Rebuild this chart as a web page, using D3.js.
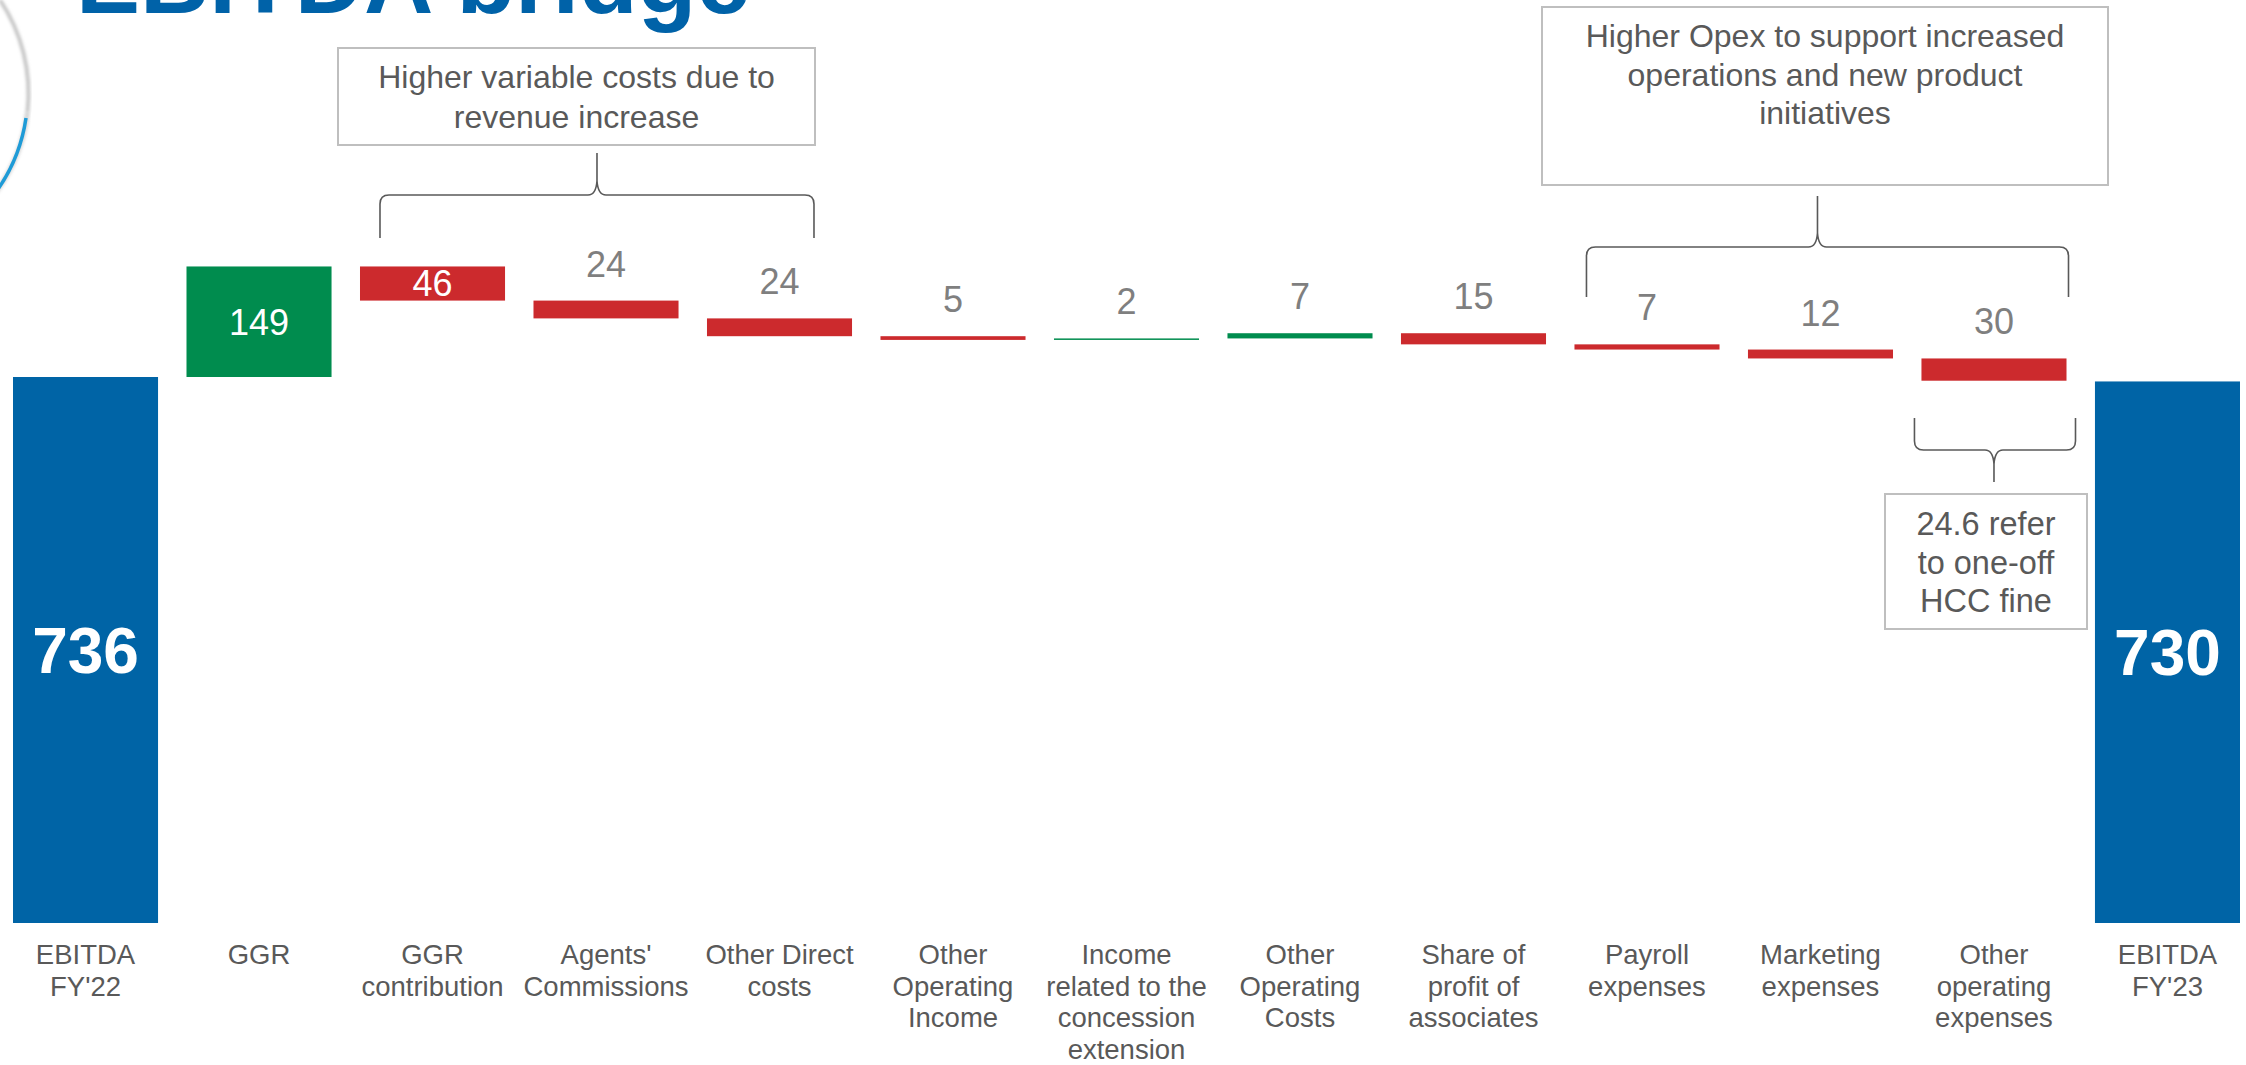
<!DOCTYPE html>
<html>
<head>
<meta charset="utf-8">
<script src="https://cdn.jsdelivr.net/npm/d3@7/dist/d3.min.js"></script>
<style>
  html, body { margin: 0; padding: 0; background: #ffffff; }
  svg { display: block; font-family: "Liberation Sans", Arial, sans-serif; }
</style>
</head>
<body>
<svg id="chart" width="2246" height="1065"></svg>
<script>
// ---------- DATA ----------
const categories = ["EBITDA FY'22", "GGR", "GGR contribution", "Agents' Commissions", "Other Direct costs",
  "Other Operating Income", "Income related to the concession extension", "Other Operating Costs",
  "Share of profit of associates", "Payroll expenses", "Marketing expenses", "Other operating expenses", "EBITDA FY'23"];
const categoryLines = [["EBITDA", "FY'22"], ["GGR"], ["GGR", "contribution"], ["Agents'", "Commissions"],
  ["Other Direct", "costs"], ["Other", "Operating", "Income"], ["Income", "related to the", "concession", "extension"],
  ["Other", "Operating", "Costs"], ["Share of", "profit of", "associates"], ["Payroll", "expenses"],
  ["Marketing", "expenses"], ["Other", "operating", "expenses"], ["EBITDA", "FY'23"]];
const values = [736, 149, 46, 24, 24, 5, 2, 7, 15, 7, 12, 30, 730];
const kinds = ["total", "up", "down", "down", "down", "down", "up", "up", "down", "down", "down", "down", "total"];
const title = "EBITDA bridge";
const note1 = ["Higher variable costs due to", "revenue increase"];
const note2 = ["Higher Opex to support increased", "operations and new product", "initiatives"];
const note3 = ["24.6 refer", "to one-off", "HCC fine"];

// ---------- STYLE ----------
const colors = { total: "#0064A6", up: "#008C4E", down: "#CC2A2D" };
const textDark = "#595959", textValue = "#7F7F7F";

// ---------- BUILD ----------
let run = 0;
const bars = values.map((v, i) => {
  let y0, y1;
  if (kinds[i] === "total") { y0 = 0; y1 = v; run = v; }
  else if (kinds[i] === "up") { y0 = run; y1 = run + v; run = y1; }
  else { y0 = run - v; y1 = run; run = y0; }
  return { cat: categories[i], lines: categoryLines[i], value: v, kind: kinds[i], lo: y0, hi: y1 };
});

const svg = d3.select("#chart");
const x = d3.scaleBand().domain(categories).range([13, 2240]).paddingInner(0.164).paddingOuter(0);
const y = d3.scaleLinear().domain([0, 736]).range([923, 377]);
const bw = x.bandwidth();

// logo arc
const defs = svg.append("defs");
defs.append("filter").attr("id", "blur").append("feGaussianBlur").attr("stdDeviation", 1.6);
svg.append("path").attr("d", "M0,0 A168,168 0 0,1 27.5,112").attr("fill", "none")
  .attr("stroke", "#c8c8c8").attr("stroke-width", 4).attr("filter", "url(#blur)");
svg.append("path").attr("d", "M27.5,112 A168,168 0 0,1 -4,192").attr("fill", "none")
  .attr("stroke", "#8a8a8a").attr("stroke-width", 5).attr("opacity", 0.35).attr("filter", "url(#blur)");
svg.append("path").attr("d", "M26,118 A168,168 0 0,1 -4,192").attr("fill", "none")
  .attr("stroke", "#1E9BD7").attr("stroke-width", 3.5);

// title
svg.append("text").attr("x", 76).attr("y", 13).attr("font-size", 96).attr("font-weight", "bold")
  .attr("fill", "#0062A8").text(title);

// bars
svg.append("g").selectAll("rect").data(bars).join("rect")
  .attr("x", d => x(d.cat)).attr("width", bw)
  .attr("y", d => y(d.hi)).attr("height", d => Math.max(1.5, y(d.lo) - y(d.hi)))
  .attr("fill", d => colors[d.kind]);

// value labels
const lab = svg.append("g").attr("text-anchor", "middle");
bars.forEach(d => {
  const cx = x(d.cat) + bw / 2;
  const h = y(d.lo) - y(d.hi);
  if (d.kind === "total") {
    lab.append("text").attr("x", cx).attr("y", (y(d.lo) + y(d.hi)) / 2).attr("dy", "0.36em")
      .attr("font-size", 64).attr("font-weight", "bold").attr("fill", "#fff").text(d.value);
  } else if (h > 30) {
    lab.append("text").attr("x", cx).attr("y", (y(d.lo) + y(d.hi)) / 2).attr("dy", "0.36em")
      .attr("font-size", 36).attr("fill", "#fff").text(d.value);
  } else {
    lab.append("text").attr("x", cx).attr("y", y(d.hi) - 24)
      .attr("font-size", 36).attr("fill", textValue).text(d.value);
  }
});

// category labels
const cl = svg.append("g").attr("text-anchor", "middle").attr("font-size", 27.5).attr("fill", textDark);
bars.forEach(d => {
  const t = cl.append("text").attr("x", x(d.cat) + bw / 2).attr("y", 964);
  d.lines.forEach((ln, j) => t.append("tspan").attr("x", x(d.cat) + bw / 2).attr("y", 964 + j * 31.5).text(ln));
});

// braces
function brace(xl, xr, xt, yEnd, yMid, yTip) {
  const s = Math.sign(yEnd - yMid); // +1: ends below mid (tip up)
  const r = 9;
  return `M${xl},${yEnd} L${xl},${yMid + s * r} Q${xl},${yMid} ${xl + r},${yMid} L${xt - 9},${yMid} ` +
    `Q${xt - 1},${yMid} ${xt},${yMid - s * 14} L${xt},${yTip} ` +
    `M${xr},${yEnd} L${xr},${yMid + s * r} Q${xr},${yMid} ${xr - r},${yMid} L${xt + 9},${yMid} ` +
    `Q${xt + 1},${yMid} ${xt},${yMid - s * 14}`;
}
const bg = svg.append("g").attr("fill", "none").attr("stroke", "#595959").attr("stroke-width", 1.6);
const b1l = x(categories[2]) + 20, b1r = x(categories[4]) + 107;
bg.append("path").attr("d", brace(b1l, b1r, (b1l + b1r) / 2, 238, 195, 153));
const b2l = x(categories[9]) + 12, b2r = x(categories[11]) + bw + 2;
bg.append("path").attr("d", brace(b2l, b2r, (b2l + b2r) / 2 - 10, 297, 247, 196));
const b3l = x(categories[11]) - 7, b3r = x(categories[11]) + bw + 9;
bg.append("path").attr("d", brace(b3l, b3r, x(categories[11]) + bw / 2, 418, 450, 482));

// annotation boxes
function noteBox(x0, y0, x1, y1, lines, baseline0, lh, fs) {
  const g = svg.append("g");
  g.append("rect").attr("x", x0).attr("y", y0).attr("width", x1 - x0).attr("height", y1 - y0)
    .attr("fill", "#fff").attr("stroke", "#BFBFBF").attr("stroke-width", 2);
  const t = g.append("text").attr("text-anchor", "middle").attr("font-size", fs).attr("fill", textDark);
  lines.forEach((ln, j) => t.append("tspan").attr("x", (x0 + x1) / 2).attr("y", baseline0 + j * lh).text(ln));
}
noteBox(338, 48, 815, 145, note1, 88, 40, 32);
noteBox(1542, 7, 2108, 185, note2, 47, 38.5, 32);
noteBox(1885, 494, 2087, 629, note3, 535, 38.5, 32.5);
</script>
</body>
</html>
